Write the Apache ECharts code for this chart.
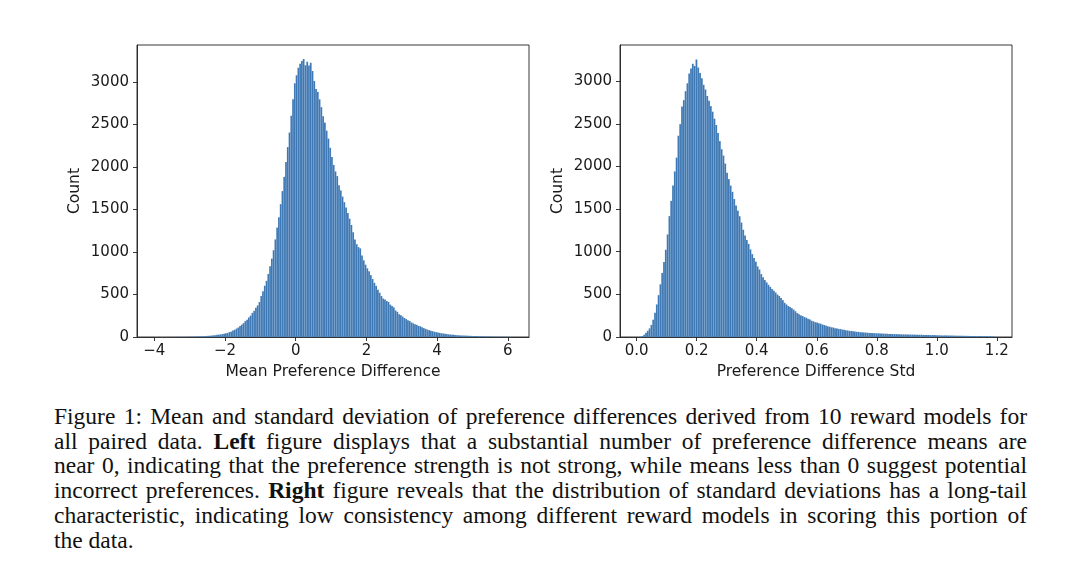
<!DOCTYPE html>
<html>
<head>
<meta charset="utf-8">
<script src="https://cdn.jsdelivr.net/npm/echarts@6/dist/echarts.min.js"></script>
<style>
  html, body { margin: 0; padding: 0; background: #fff; }
  #chart { position: absolute; left: 0; top: 0; width: 1080px; height: 400px; }
  #caption { position: absolute; left: 54px; top: 404px; width: 973px;
    font-family: "Liberation Serif", "Times New Roman", serif; font-size: 23.5px; line-height: 24.7px; color: #111; }
  #caption .ln { white-space: nowrap; text-align: justify; text-align-last: justify; }
  #caption .last { text-align: left; text-align-last: left; }
</style>
</head>
<body>
<div id="chart"></div>
<div id="caption">
  <div class="ln">Figure 1: Mean and standard deviation of preference differences derived from 10 reward models for</div>
  <div class="ln">all paired data. <b>Left</b> figure displays that a substantial number of preference difference means are</div>
  <div class="ln">near 0, indicating that the preference strength is not strong, while means less than 0 suggest potential</div>
  <div class="ln">incorrect preferences. <b>Right</b> figure reveals that the distribution of standard deviations has a long-tail</div>
  <div class="ln">characteristic, indicating low consistency among different reward models in scoring this portion of</div>
  <div class="ln last">the data.</div>
</div>
<script>
// ---- data ----
const leftBinStart = -4.0;
const leftBinWidth = 0.05;
const leftCounts = [
  0,0,1,0,0,1,0,1,1,0,
  1,1,2,1,2,2,3,2,3,4,
  4,5,5,6,7,8,8,10,11,12,
  14,15,17,20,21,25,27,31,34,39,
  44,47,58,63,75,85,99,111,129,145,
  163,187,203,230,252,284,308,343,372,412,
  482,538,603,661,742,832,922,1021,1148,1287,
  1408,1563,1716,1884,2058,2234,2405,2603,2797,2985,
  3078,3168,3214,3248,3271,3196,3238,3195,3226,3128,
  3012,2918,2883,2796,2704,2597,2522,2428,2334,2226,
  2118,2024,1948,1893,1786,1724,1652,1586,1523,1458,
  1392,1318,1233,1148,1092,1058,1043,958,902,851,
  808,772,728,683,638,602,557,521,483,452,
  441,423,412,381,366,348,312,296,269,256,
  241,224,211,197,189,171,161,151,143,131,
  126,114,104,96,87,81,73,68,62,57,
  52,48,44,41,37,34,31,29,27,25,
  23,22,20,19,18,17,16,15,14,13,
  12,11,11,10,9,9,8,8,7,7,
  6,6,5,5,4,4,4,3,3,3,
  2,1
];

const rightBinStart = 0.004;
const rightBinWidth = 0.006;
const rightCounts = [
  1,4,12,27,49,73,101,142,203,283,
  382,491,618,752,879,1024,1203,1418,1597,1776,
  1942,2104,2361,2497,2703,2778,2884,2976,3092,3148,
  3206,3178,3255,3161,3098,3034,2958,2903,2827,2772,
  2708,2643,2561,2487,2392,2298,2203,2128,2034,1928,
  1852,1776,1703,1618,1541,1482,1417,1343,1258,1192,
  1138,1092,1028,972,928,883,828,792,738,702,
  668,641,612,588,563,543,522,498,481,458,
  432,401,382,364,352,338,321,302,281,266,
  254,246,233,226,214,206,191,183,174,169,
  161,156,147,141,133,125,121,114,111,104,
  101,95,93,87,85,79,77,72,71,66,
  65,61,60,57,57,53,52,50,48,48,
  46,45,43,44,41,41,39,39,38,36,
  36,35,34,34,33,32,31,31,30,30,
  29,28,28,28,27,26,26,26,25,24,
  24,24,23,22,22,21,21,20,19,19,
  19,18,18,17,17,16,16,15,15,14,
  14,14,13,13,13,12,12,12,11,11,
  11,10,10,10,9,9,8,8
];

const yTicks = [0, 500, 1000, 1500, 2000, 2500, 3000];
const leftXTicks = [-4, -2, 0, 2, 4, 6];
const rightXTicks = [0, 0.2, 0.4, 0.6, 0.8, 1.0, 1.2];
const leftXName = 'Mean Preference Difference';
const rightXName = 'Preference Difference Std';
const yName = 'Count';

// ---- build ----
function bins(start, width, counts) {
  return counts.map((c, i) => [start + i * width, start + (i + 1) * width, c]);
}
const FONT = 'DejaVu Sans';
const BAR = '#3c77b4';
function renderBar(params, api) {
  const p0 = api.coord([api.value(0), api.value(2)]);
  const p1 = api.coord([api.value(1), 0]);
  return {
    type: 'rect',
    shape: { x: p0[0], y: p0[1], width: p1[0] - p0[0], height: p1[1] - p0[1] },
    style: { fill: BAR, stroke: 'rgba(255,255,255,0.16)', lineWidth: 0.4 }
  };
}
function minusFmt(v) { return v < 0 ? '\u2212' + Math.abs(v) : String(v); }

function xAxis(idx, min, max, ticks, name, fmt) {
  return {
    type: 'value', gridIndex: idx, min: min, max: max,
    splitLine: { show: false },
    axisLine: { show: true, onZero: false, lineStyle: { color: '#222', width: 0.9 } },
    axisTick: { show: true, inside: false, length: 4, customValues: ticks, lineStyle: { color: '#222', width: 0.9 } },
    axisLabel: { customValues: ticks, formatter: fmt, margin: 7, color: '#1a1a1a', fontSize: 15, fontFamily: FONT },
    name: name, nameLocation: 'middle', nameGap: 27,
    nameTextStyle: { color: '#1a1a1a', fontSize: 15.5, fontFamily: FONT }
  };
}
function yAxis(idx, max) {
  return {
    type: 'value', gridIndex: idx, min: 0, max: max,
    splitLine: { show: false },
    axisLine: { show: true, onZero: false, lineStyle: { color: '#222', width: 0.9 } },
    axisTick: { show: true, inside: false, length: 4, customValues: yTicks, lineStyle: { color: '#222', width: 0.9 } },
    axisLabel: { customValues: yTicks, formatter: v => String(v), margin: 8, color: '#1a1a1a', fontSize: 15, fontFamily: FONT },
    name: yName, nameLocation: 'middle', nameGap: 54, nameRotate: 90,
    nameTextStyle: { color: '#1a1a1a', fontSize: 15.5, fontFamily: FONT }
  };
}

const chart = echarts.init(document.getElementById('chart'), null, { renderer: 'canvas' });
chart.setOption({
  backgroundColor: '#fff',
  animation: false,
  grid: [
    { left: 137, top: 45, width: 392, height: 292, show: true, borderColor: '#222', borderWidth: 0.9, backgroundColor: 'transparent' },
    { left: 620, top: 45, width: 392, height: 292, show: true, borderColor: '#222', borderWidth: 0.9, backgroundColor: 'transparent' }
  ],
  xAxis: [
    xAxis(0, -4.49, 6.60, leftXTicks, leftXName, minusFmt),
    xAxis(1, -0.0557, 1.2507, rightXTicks, rightXName, v => Number(v).toFixed(1))
  ],
  yAxis: [yAxis(0, 3435), yAxis(1, 3425)],
  series: [
    { type: 'custom', xAxisIndex: 0, yAxisIndex: 0, renderItem: renderBar, encode: { x: [0, 1], y: 2 },
      data: bins(leftBinStart, leftBinWidth, leftCounts), silent: true },
    { type: 'custom', xAxisIndex: 1, yAxisIndex: 1, renderItem: renderBar, encode: { x: [0, 1], y: 2 },
      data: bins(rightBinStart, rightBinWidth, rightCounts), silent: true }
  ]
});
</script>
</body>
</html>
